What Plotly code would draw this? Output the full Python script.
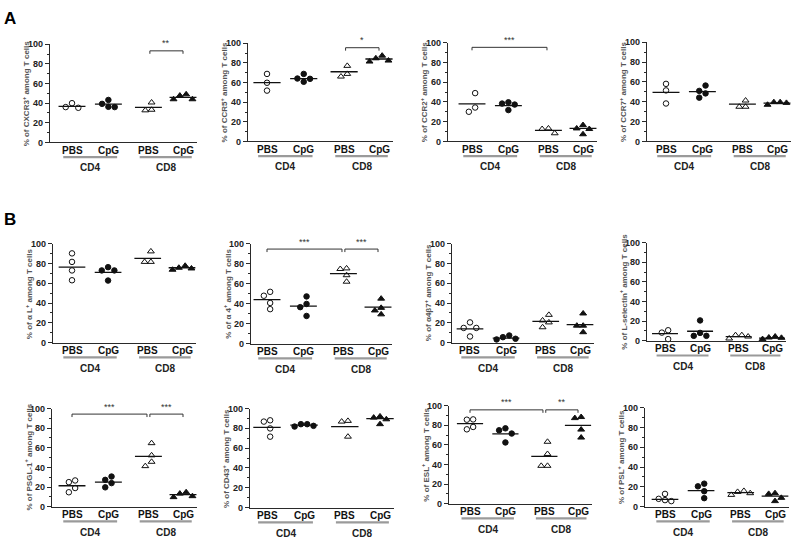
import numpy as np
import plotly.graph_objects as go

W, H = 800, 548

# ---------------- data ----------------
categories = ["PBS", "CpG", "PBS", "CpG"]
groups = ["CD4", "CD8"]

CXCR3 = [[40, 35.3, 36], [39.3, 43.3, 36, 36.3], [32.7, 40.7, 33.3], [47.7, 44, 44, 49]]
CXCR3_MED = [36.7, 39, 35.7, 46]
CXCR3_SIG = [(2, 3, "**", 93.3)]

CCR5 = [[68.8, 59.8, 51.8], [64.1, 68.8, 60.8, 63.8], [77, 66.1, 68.8], [84.7, 81.4, 82.4, 87.4]]
CCR5_MED = [60, 64, 71, 84]
CCR5_SIG = [(2, 3, "*", 95.5)]

CCR2 = [[49, 30.1, 34.4], [38.4, 39.7, 31.8, 37.4], [13.2, 8.3, 12.6], [13.2, 16.6, 7.3, 12.6]]
CCR2_MED = [38, 36.4, 11.3, 13.2]
CCR2_SIG = [(0, 2, "***", 95.4)]

CCR7 = [[58.1, 51.5, 38.3], [56.4, 44.2, 51, 48.5], [41.3, 35, 35], [39.6, 37, 38.9, 39.6]]
CCR7_MED = [49.5, 50.2, 37.6, 38.6]
CCR7_SIG = []

ITGAL = [[90.1, 81.5, 72.9, 63], [72.9, 72.9, 62.7, 76.2], [92.1, 81.5, 81.5], [75.6, 73.6, 74.9, 77.6]]
ITGAL_MED = [76.2, 71, 85.1, 75.6]
ITGAL_SIG = []

ITGA4 = [[51.8, 47.9, 40.7, 34.5], [47.2, 39.7, 36.5, 27.7], [74.6, 75.2, 68.4, 61.9], [45, 35.8, 33.2, 29.3]]
ITGA4_MED = [44, 37.5, 70, 36.5]
ITGA4_SIG = [(0, 2, "***", 94.5), (2, 3, "***", 94.5)]

A4B7 = [[14.9, 14.9, 20.5, 6.3], [5.6, 3.3, 4, 7.3], [28.1, 22.5, 20.5, 15.6], [29.5, 17.2, 17.2, 10.6]]
A4B7_MED = [13.9, 4.6, 21.5, 18.2]
A4B7_SIG = []

SELL = [[10.7, 8.3, 1.7], [20.7, 8, 5, 5], [5.7, 2.3, 4.3, 5.7], [3.3, 1.7, 3, 4.3]]
SELL_MED = [7.3, 9.7, 4.3, 2.7]
SELL_SIG = []

PSGL1 = [[26.7, 25, 19, 14.7], [30.7, 27.3, 24, 19.7], [64.7, 52.3, 45.7, 41.3], [13.3, 9.7, 10.7, 14.7]]
PSGL1_MED = [21.3, 25, 51.3, 12.3]
PSGL1_SIG = [(0, 2, "***", 94.3), (2, 3, "***", 94.3)]

CD43 = [[86.8, 88.1, 79.9, 71.6], [84.2, 81.8, 82.5, 84.2], [87.5, 86.8, 71.6], [92, 90.8, 84.2, 89.1]]
CD43_MED = [80.9, 83.2, 81.8, 89.8]
CD43_SIG = []

ESL = [[85.9, 85.6, 75.8, 78.2], [74.8, 76.8, 71.5, 62.4], [63.1, 50.7, 38.6, 38.6], [87.2, 88.3, 75.5, 67.4]]
ESL_MED = [81.5, 71.1, 48.3, 79.9]
ESL_SIG = [(0, 2, "***", 95.6), (2, 3, "**", 95.6)]

PSL = [[7.9, 12.9, 5.6, 6.6], [20.5, 23.2, 15.6, 8.6], [14.9, 11.9, 13.6, 15.9], [12.9, 13.6, 5.6, 8.9]]
PSL_MED = [7.3, 16.2, 14.2, 10.6]
PSL_SIG = []

y_titles = [
    "% of CXCR3<sup>+</sup> among T cells", "% of CCR5<sup>+</sup> among T cells",
    "% of CCR2<sup>+</sup> among T cells", "% of CCR7<sup>+</sup> among T cells",
    "% of α L<sup>+</sup> among T cells", "% of α 4<sup>+</sup> among T cells",
    "% of α4β7<sup>+</sup> among T cells", "% of L-selectin<sup>+</sup> among T cells",
    "% of PSGL-1<sup>+</sup> among T cells", "% of CD43<sup>+</sup> among T cells",
    "% of ESL<sup>+</sup> among T cells", "% of PSL<sup>+</sup> among T cells",
]
panel_data = [CXCR3, CCR5, CCR2, CCR7, ITGAL, ITGA4, A4B7, SELL, PSGL1, CD43, ESL, PSL]
panel_med = [CXCR3_MED, CCR5_MED, CCR2_MED, CCR7_MED, ITGAL_MED, ITGA4_MED, A4B7_MED, SELL_MED,
             PSGL1_MED, CD43_MED, ESL_MED, PSL_MED]
panel_sig = [CXCR3_SIG, CCR5_SIG, CCR2_SIG, CCR7_SIG, ITGAL_SIG, ITGA4_SIG, A4B7_SIG, SELL_SIG,
             PSGL1_SIG, CD43_SIG, ESL_SIG, PSL_SIG]

# ---------------- layout geometry (pixels) ----------------
# (y-axis x, plot top, plot bottom, first category x, last category x)
geom = [
    (50, 40, 140, 72, 183), (248, 39, 139, 267, 379), (448, 38.5, 139, 472, 583), (647, 38, 139, 666, 777),
    (53, 243, 344, 72, 182), (251, 243, 345, 267, 378), (452, 243, 344, 470, 580), (647, 242, 342, 665, 772),
    (52, 411, 511, 72, 183), (250, 411, 512, 267, 380), (449, 408, 508, 470, 578), (645, 410, 511, 665, 775),
]
cat_pos = [0, 1, 2.1, 3.05]
symbols = ["circle-open", "circle", "triangle-up-open", "triangle-up"]
sizes = [5.5, 5.5, 6, 6]

FONT = "Liberation Sans Narrow, Arial Narrow, Liberation Sans, Arial"
INK = "#2a2a2a"


def swarm(vals, px_per_val, px_per_unit, d=6.3):
    vals = np.asarray(vals, dtype=float)
    order = np.argsort(-vals, kind="stable")
    placed = []
    offs = np.zeros(len(vals))
    cands = [0.0] + [s * m * d for m in range(1, 6) for s in (-1, 1)]
    for idx in order:
        y = vals[idx] * px_per_val
        for c in cands:
            if all((c - px) ** 2 + (y - py) ** 2 >= (d * 0.999) ** 2 for px, py in placed):
                break
        placed.append((c, y))
        offs[idx] = c
    mid = (offs.max() + offs.min()) / 2
    return (offs - mid) / px_per_unit


fig = go.Figure()
layout = dict(width=W, height=H, margin=dict(l=0, r=0, t=0, b=0), showlegend=False,
              plot_bgcolor="white", paper_bgcolor="white", font=dict(family=FONT, color=INK, size=10))
annotations = []
shapes = []

for i in range(12):
    ax_x, top, bot, p0, p3 = geom[i]
    unit = (p3 - p0) / (cat_pos[3] - cat_pos[0])
    x_end = p3 + 14
    xr = [-(p0 - ax_x) / unit, (x_end - p0) / unit]
    px_per_val = (bot - top) / 100.0
    sfx = "" if i == 0 else str(i + 1)
    xa, ya = "x" + sfx, "y" + sfx
    layout["xaxis" + sfx] = dict(
        domain=[ax_x / W, x_end / W], range=xr, anchor=ya, showgrid=False, zeroline=False,
        showline=True, linecolor=INK, linewidth=1.3, tickvals=cat_pos, showticklabels=False,
        ticks="",
    )
    layout["yaxis" + sfx] = dict(
        domain=[1 - bot / H, 1 - top / H], range=[0, 100], anchor=xa, showgrid=False, zeroline=False,
        showline=True, linecolor=INK, linewidth=1.3, tickvals=[0, 20, 40, 60, 80, 100],
        ticks="outside", ticklen=4, tickcolor=INK, tickwidth=1.2,
        minor=dict(dtick=10, tick0=0, ticks="outside", ticklen=2, tickcolor=INK, tickwidth=1),
        tickfont=dict(family=FONT, size=9, color="#222", weight="bold"),
    )
    data = panel_data[i]
    for j in range(4):
        offs = swarm(data[j], px_per_val, unit)
        fig.add_trace(go.Scatter(
            x=[cat_pos[j] + o for o in offs], y=data[j], mode="markers", xaxis=xa, yaxis=ya,
            cliponaxis=False,
            marker=dict(symbol=symbols[j], size=sizes[j], color="#111",
                        line=dict(color="#111", width=1)),
        ))
        m = panel_med[i][j]
        fig.add_trace(go.Scatter(
            x=[cat_pos[j] - 0.37, cat_pos[j] + 0.37], y=[m, m], mode="lines", xaxis=xa, yaxis=ya,
            line=dict(color="#111", width=1.3), hoverinfo="skip",
        ))
        # category label
        annotations.append(dict(x=cat_pos[j], y=1 - (bot + 8) / H, xref=xa, yref="paper",
                                text=categories[j], showarrow=False, yanchor="middle",
                                font=dict(family=FONT, size=10, color="#111", weight="bold")))
    for (a, b, stars, h) in panel_sig[i]:
        xa_ = cat_pos[a] + (0.04 if a == 2 else 0)
        xb_ = cat_pos[b] - (0.04 if b == 2 else 0)
        fig.add_trace(go.Scatter(
            x=[xa_, xa_, xb_, xb_], y=[h - 3, h, h, h - 3], mode="lines", xaxis=xa, yaxis=ya,
            line=dict(color="#333", width=1), hoverinfo="skip",
        ))
        annotations.append(dict(x=(xa_ + xb_) / 2, y=h + 0.5, xref=xa, yref=ya, text=stars,
                                showarrow=False, yanchor="bottom",
                                font=dict(family=FONT, size=9, color="#333")))
    # group underlines and labels
    for g in range(2):
        c0, c1 = cat_pos[2 * g], cat_pos[2 * g + 1]
        shapes.append(dict(type="line", xref=xa, yref="paper", x0=c0 - 0.24, x1=c1 + 0.24,
                           y0=1 - (bot + 15) / H, y1=1 - (bot + 15) / H,
                           line=dict(color="#9a9a9a", width=2.2)))
        annotations.append(dict(x=(c0 + c1) / 2, y=1 - (bot + 26) / H, xref=xa, yref="paper",
                                text=groups[g], showarrow=False, yanchor="middle",
                                font=dict(family=FONT, size=10, color="#222", weight="bold")))
    # y title
    annotations.append(dict(x=(ax_x - 24) / W, y=1 - (top + bot) / 2 / H, xref="paper", yref="paper",
                            text=y_titles[i], textangle=-90, showarrow=False,
                            xanchor="center", yanchor="middle",
                            font=dict(family=FONT, size=8, color="#555", weight="bold")))

annotations.append(dict(x=10 / W, y=1 - 14 / H, xref="paper", yref="paper", text="A", showarrow=False,
                        xanchor="center", yanchor="middle",
                        font=dict(family="Liberation Sans, Arial", size=17, color="#000", weight="bold")))
annotations.append(dict(x=10 / W, y=1 - 218 / H, xref="paper", yref="paper", text="B", showarrow=False,
                        xanchor="center", yanchor="middle",
                        font=dict(family="Liberation Sans, Arial", size=17, color="#000", weight="bold")))

layout["annotations"] = annotations
layout["shapes"] = shapes
fig.update_layout(**layout)
fig.write_html("out.html", config={"displayModeBar": False},
               post_script="document.body.style.margin='0';document.body.style.padding='0';")
